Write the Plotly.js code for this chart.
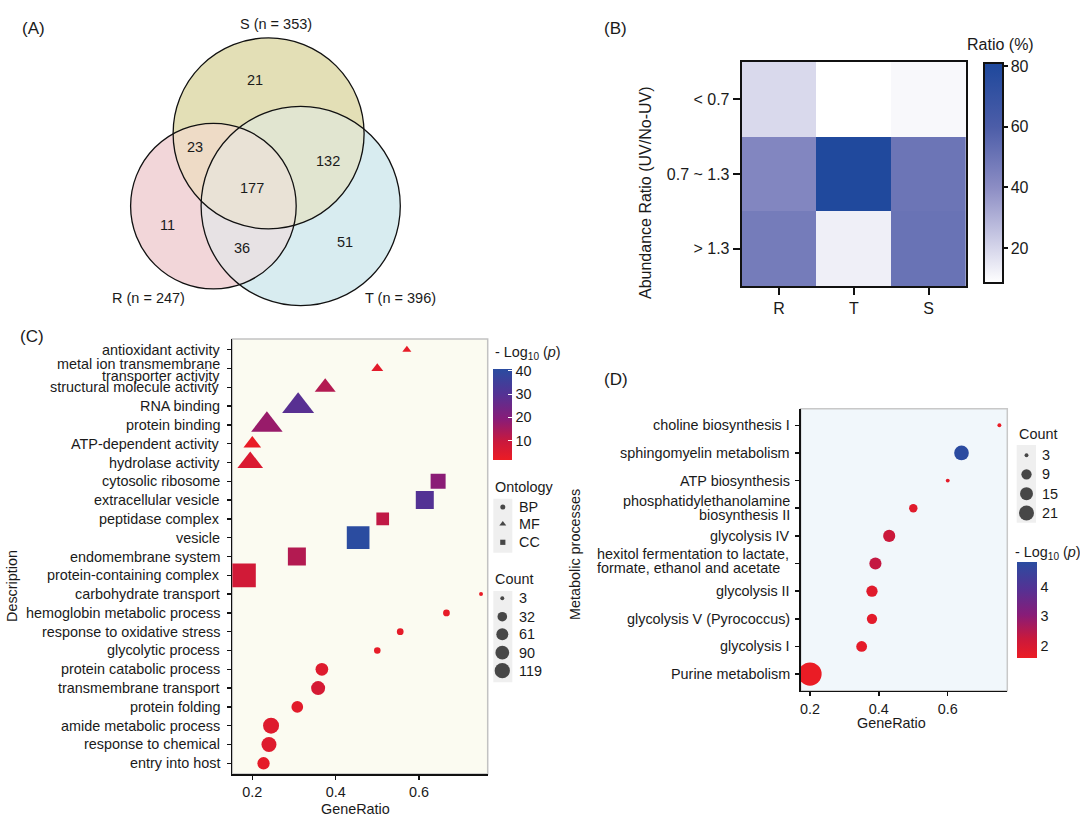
<!DOCTYPE html>
<html><head><meta charset="utf-8">
<script src="https://cdn.plot.ly/plotly-3.0.1.min.js"></script>
<style>html,body{margin:0;padding:0;background:#fff}#chart{width:1080px;height:822px}</style>
</head><body><div id="chart"></div>
<script>
// ================= DATA =================
// (A) Venn diagram
const vennSetLabels = ['S (n = 353)', 'R (n = 247)', 'T (n = 396)'];
const vennRegionKeys = [['S'], ['R'], ['T'], ['S','R'], ['S','T'], ['R','T'], ['S','R','T']];
const vennCounts = [21, 11, 51, 23, 132, 36, 177];

// (B) Heatmap: Ratio (%)
const hmGroups = ['R', 'T', 'S'];
const hmBins = ['< 0.7', '0.7 ~ 1.3', '> 1.3'];
const hmRatio = [
  [19, 8.5, 10.5],
  [43, 80, 50],
  [47, 13, 51]
];

// (C) GO enrichment
const goTerms = [
  'antioxidant activity', 'metal ion transmembrane<br>transporter activity', 'structural molecule activity',
  'RNA binding', 'protein binding', 'ATP-dependent activity', 'hydrolase activity',
  'cytosolic ribosome', 'extracellular vesicle', 'peptidase complex', 'vesicle',
  'endomembrane system', 'protein-containing complex',
  'carbohydrate transport', 'hemoglobin metabolic process', 'response to oxidative stress',
  'glycolytic process', 'protein catabolic process', 'transmembrane transport',
  'protein folding', 'amide metabolic process', 'response to chemical', 'entry into host'
];
const goOntology = ['MF','MF','MF','MF','MF','MF','MF','CC','CC','CC','CC','CC','CC',
  'BP','BP','BP','BP','BP','BP','BP','BP','BP','BP'];
const goRatio = [0.571, 0.5, 0.375, 0.31, 0.235, 0.2, 0.195, 0.646, 0.614, 0.513, 0.454, 0.307, 0.18,
  0.749, 0.666, 0.555, 0.5, 0.367, 0.358, 0.308, 0.245, 0.24, 0.227];
const goCount = [10, 25, 125, 359, 345, 79, 210, 113, 181, 72, 320, 181, 355,
  3, 10, 10, 9, 72, 94, 57, 134, 113, 66];
const goLogP = [3, 4, 13, 29, 17, 2.5, 6, 19, 30, 11, 40.5, 13, 8,
  2.5, 3, 3.5, 3, 5, 7, 4, 5, 5, 3.5];
const ontologyLevels = ['BP', 'MF', 'CC'];
const countBreaksC = [3, 32, 61, 90, 119];
const logPTicksC = [10, 20, 30, 40];

// (D) Metabolic processes
const metTerms = [
  'choline biosynthesis I', 'sphingomyelin metabolism', 'ATP biosynthesis',
  'phosphatidylethanolamine<br>biosynthesis II', 'glycolysis IV',
  'hexitol fermentation to lactate,<br>formate, ethanol and acetate',
  'glycolysis II', 'glycolysis V (Pyrococcus)', 'glycolysis I', 'Purine metabolism'
];
const metRatio = [0.75, 0.64, 0.6, 0.5, 0.43, 0.39, 0.38, 0.38, 0.35, 0.2];
const metCount = [3, 20, 3, 6, 13, 13, 11, 9, 10, 58];
const metLogP = [1.6, 4.8, 1.7, 1.8, 2.2, 2.3, 1.8, 1.75, 1.7, 1.6];
const countBreaksD = [3, 9, 15, 21];
const logPTicksD = [2, 3, 4];

// ================= STYLE / LAYOUT HELPERS =================
const W = 1080, H = 822;
const px = x => x / W, py = y => 1 - y / H;
const FONT = 'Liberation Sans, Arial, Helvetica, sans-serif';
const TXT = '#1a1a1a';
const redBlue = [[0,'rgb(236,28,36)'],[0.2,'rgb(202,25,60)'],[0.45,'rgb(136,28,120)'],[0.72,'rgb(84,50,148)'],[1,'rgb(42,76,160)']];
const blues = [[0,'rgb(255,255,255)'],[0.159,'rgb(213,213,234)'],[0.434,'rgb(140,141,196)'],[0.71,'rgb(76,93,168)'],[1,'rgb(30,72,156)']];
const symbolOf = {BP:'circle', MF:'triangle-up', CC:'square'};
const symbolScale = {circle:1, 'triangle-up':1.166, square:1};

function ggSize(c, cmin, cmax, dMax) { return dMax * (1 + 5 * Math.sqrt((c - cmin) / (cmax - cmin))) / 6; }
const cMinC = Math.min(...goCount), cMaxC = Math.max(...goCount);
const cMinD = Math.min(...metCount), cMaxD = Math.max(...metCount);
const sizeC = c => ggSize(c, cMinC, cMaxC, 23.8);
const sizeD = c => ggSize(c, cMinD, cMaxD, 23.3);

const shapes = [];
const annotations = [];
function txt(text, x, y, size, opts) {
  annotations.push(Object.assign({text, x: px(x), y: py(y), xref:'paper', yref:'paper', showarrow:false,
    font:{family:FONT, size, color:TXT}, xanchor:'center', yanchor:'middle'}, opts || {}));
}

// ---- (A) Venn geometry ----
const vennCircles = { S:{cx:268.6, cy:133.4, r:95.5}, R:{cx:213.4, cy:206.1, r:82.8}, T:{cx:300.7, cy:206.0, r:99.6} };
const regionFill = ['#E3DFB6', '#F2D6D9', '#D8ECF0', '#EEDBC6', '#E1E5D0', '#E7E2E4', '#E9E2D6'];
const regionLabelPos = [[255,80],[167.3,225.3],[345.3,242],[195.3,147],[328.3,161],[242.3,247.7],[251.7,187.7]];
function regionPath(keys) {
  const cs = keys.map(k => vennCircles[k]);
  const pts = [];
  cs.forEach((c, i) => {
    for (let a = 0; a < 720; a++) {
      const t = a / 720 * 2 * Math.PI;
      const x = c.cx + c.r * Math.cos(t), y = c.cy + c.r * Math.sin(t);
      if (cs.every((o, j) => j === i || Math.hypot(x - o.cx, y - o.cy) <= o.r)) pts.push([x, y]);
    }
  });
  const mx = pts.reduce((s,p)=>s+p[0],0)/pts.length, my = pts.reduce((s,p)=>s+p[1],0)/pts.length;
  pts.sort((p, q) => Math.atan2(p[1]-my, p[0]-mx) - Math.atan2(q[1]-my, q[0]-mx));
  return 'M' + pts.map(p => px(p[0]).toFixed(5) + ',' + py(p[1]).toFixed(5)).join('L') + 'Z';
}
vennRegionKeys.forEach((keys, i) => {
  if (keys.length === 1) {
    const c = vennCircles[keys[0]];
    shapes.push({type:'circle', xref:'paper', yref:'paper', x0:px(c.cx-c.r), x1:px(c.cx+c.r), y0:py(c.cy+c.r), y1:py(c.cy-c.r),
      fillcolor:regionFill[i], line:{width:0}, layer:'below'});
  } else {
    shapes.push({type:'path', xref:'paper', yref:'paper', path:regionPath(keys), fillcolor:regionFill[i], line:{width:0}, layer:'below'});
  }
  txt(String(vennCounts[i]), regionLabelPos[i][0], regionLabelPos[i][1], 14.5);
});
['S','R','T'].forEach(k => {
  const c = vennCircles[k];
  shapes.push({type:'circle', xref:'paper', yref:'paper', x0:px(c.cx-c.r), x1:px(c.cx+c.r), y0:py(c.cy+c.r), y1:py(c.cy-c.r),
    line:{color:'#111', width:1.3}, fillcolor:'rgba(0,0,0,0)', layer:'below'});
});
const setLabelPos = [[275.7,24],[148,297.7],[400,297.7]];
vennSetLabels.forEach((s,i)=> txt(s, setLabelPos[i][0], setLabelPos[i][1], 14.5));

// ---- panel labels ----
txt('(A)', 33.3, 28.3, 17); txt('(B)', 615, 28.3, 17); txt('(C)', 32.3, 336.7, 17); txt('(D)', 616, 379, 17);

// ---- (B) titles ----
txt('Abundance Ratio (UV/No-UV)', 645, 193, 16, {textangle:-90});
txt('Ratio (%)', 1000, 45, 16);

// ---- (C) panel box, labels ----
const boxC = {x0:232.3, x1:487.7, y0:339, y1:774};
shapes.push({type:'rect', xref:'paper', yref:'paper', x0:px(boxC.x0), x1:px(boxC.x1), y0:py(boxC.y1), y1:py(boxC.y0),
  fillcolor:'#FBFBF1', line:{color:'#C2C2C2', width:1.5}, layer:'below'});
goTerms.forEach((t, i) => {
  const lines = t.split('<br>');
  lines.forEach((ln, k) => {
    const off = (k - (lines.length - 1) / 2) * 12 + (lines.length > 1 ? 1.5 : 0);
    annotations.push({text:ln, xref:'paper', yref:'y2', x:px(221.5), y:i, yshift:-off, xanchor:'right', yanchor:'middle',
      showarrow:false, font:{family:FONT, size:14.4, color:TXT}});
  });
});
txt('Description', 12, 586, 14.4, {textangle:-90});
txt('GeneRatio', 355.5, 809.3, 14.4);
txt('- Log<sub>10</sub> (<i>p</i>)', 493.3, 352.7, 14.4, {xanchor:'left'});
txt('Ontology', 493.3, 486.7, 14.4, {xanchor:'left'});
txt('Count', 493.3, 579.3, 14.4, {xanchor:'left'});
const ontY = [507, 524, 542.3], cntYC = [598.3, 616.7, 634.3, 652.7, 670.7];
ontologyLevels.forEach((o,i)=> txt(o, 516.7, ontY[i], 14.4, {xanchor:'left'}));
countBreaksC.forEach((c,i)=> txt(String(c), 516.7, cntYC[i], 14.4, {xanchor:'left'}));
shapes.push({type:'rect', xref:'paper', yref:'paper', x0:px(493.3), x1:px(512.3), y0:py(552.7), y1:py(498.7), fillcolor:'#EFEFEF', line:{width:0}, layer:'below'});
shapes.push({type:'rect', xref:'paper', yref:'paper', x0:px(493.3), x1:px(512.3), y0:py(682.3), y1:py(591), fillcolor:'#EFEFEF', line:{width:0}, layer:'below'});

// ---- (D) panel box, labels ----
const boxD = {x0:800.7, x1:1007.3, y0:408.7, y1:690.7};
shapes.push({type:'rect', xref:'paper', yref:'paper', x0:px(boxD.x0), x1:px(boxD.x1), y0:py(boxD.y1), y1:py(boxD.y0),
  fillcolor:'#F1F7FB', line:{color:'#C8C8C8', width:1.5}, layer:'below'});
const leftAlignedD = {5: 594.7};   // label index -> left x (px) for left-justified multi-line labels
metTerms.forEach((t, i) => {
  const lines = t.split('<br>');
  lines.forEach((ln, k) => {
    const off = (k - (lines.length - 1) / 2) * 14 - (i in leftAlignedD ? 2.4 : 0);
    const left = (i in leftAlignedD);
    annotations.push({text:ln, xref:'paper', yref:'y3', x: left ? px(leftAlignedD[i]) : px(792), y:i, yshift:-off,
      xanchor: left ? 'left' : 'right', yanchor:'middle',
      showarrow:false, font:{family:FONT, size:14.4, color:TXT}});
  });
});
txt('Metabolic processes', 575, 555, 14.4, {textangle:-90});
txt('GeneRatio', 891.7, 723.3, 14.4);
txt('Count', 1017.3, 434, 14.4, {xanchor:'left'});
const cntYD = [455.3, 474.3, 493.7, 513];
countBreaksD.forEach((c,i)=> txt(String(c), 1040, cntYD[i], 14.4, {xanchor:'left'}));
shapes.push({type:'rect', xref:'paper', yref:'paper', x0:px(1016.7), x1:px(1036), y0:py(522.7), y1:py(445), fillcolor:'#EFEFEF', line:{width:0}, layer:'below'});
txt('- Log<sub>10</sub> (<i>p</i>)', 1013, 553.3, 14.4, {xanchor:'left'});

// ================= TRACES =================
const traces = [];
traces.push({type:'heatmap', x:hmGroups, y:hmBins, z:hmRatio, coloraxis:'coloraxis', xaxis:'x', yaxis:'y', hoverinfo:'skip'});

ontologyLevels.forEach(o => {
  const idx = goTerms.map((_, i) => i).filter(i => goOntology[i] === o);
  const sym = symbolOf[o];
  traces.push({type:'scatter', mode:'markers', xaxis:'x2', yaxis:'y2', hoverinfo:'skip',
    x: idx.map(i => goRatio[i]), y: idx.map(i => goTerms[i]),
    marker:{symbol:sym, size: idx.map(i => sizeC(goCount[i]) * symbolScale[sym]),
      color: idx.map(i => goLogP[i]), coloraxis:'coloraxis2', line:{width:0}, opacity:1}});
});

traces.push({type:'scatter', mode:'markers', xaxis:'x3', yaxis:'y3', hoverinfo:'skip',
  x: metRatio, y: metTerms,
  marker:{symbol:'circle', size: metCount.map(sizeD), color: metLogP, coloraxis:'coloraxis3', line:{width:0}, opacity:1}});

// legend glyphs (overlay pixel axes)
traces.push({type:'scatter', mode:'markers', xaxis:'x4', yaxis:'y4', hoverinfo:'skip',
  x: ontologyLevels.map(() => 502.8), y: ontY,
  marker:{symbol: ontologyLevels.map(o => symbolOf[o]), size:[5, 6, 5.2], color:'#000', line:{width:0}}});
traces.push({type:'scatter', mode:'markers', xaxis:'x4', yaxis:'y4', hoverinfo:'skip',
  x: countBreaksC.map(() => 502.3), y: cntYC,
  marker:{symbol:'circle', size: countBreaksC.map(sizeC), color:'#000', line:{width:0}}});
traces.push({type:'scatter', mode:'markers', xaxis:'x4', yaxis:'y4', hoverinfo:'skip',
  x: countBreaksD.map(() => 1026.5), y: cntYD,
  marker:{symbol:'circle', size: countBreaksD.map(sizeD), color:'#000', line:{width:0}}});

// ================= LAYOUT =================
const tickFont = s => ({family:FONT, size:s, color:TXT});
const layout = {
  width: W, height: H, autosize:false, margin:{l:0, r:0, t:0, b:0, pad:0},
  paper_bgcolor:'#fff', plot_bgcolor:'rgba(0,0,0,0)', showlegend:false,
  font:{family:FONT, color:TXT},
  xaxis:{domain:[px(741.7), px(966)], anchor:'y', type:'category', showline:true, mirror:true, linewidth:2, linecolor:'#111',
    ticks:'outside', ticklen:7, tickwidth:2, tickcolor:'#111', tickfont:tickFont(16), showgrid:false, zeroline:false},
  yaxis:{domain:[py(286), py(62)], anchor:'x', type:'category', autorange:'reversed', showline:true, mirror:true, linewidth:2, linecolor:'#111',
    ticks:'outside', ticklen:7, tickwidth:2, tickcolor:'#111', tickfont:tickFont(16), showgrid:false, zeroline:false},
  xaxis2:{domain:[px(boxC.x0), px(boxC.x1)], anchor:'y2', range:[0.152, 0.765], tickmode:'array', tickvals:[0.2,0.4,0.6], ticktext:['0.2','0.4','0.6'],
    showline:true, linewidth:1.6, linecolor:'#111', ticks:'outside', ticklen:4, tickwidth:1.5, tickcolor:'#111', tickfont:tickFont(14.4),
    showgrid:false, zeroline:false},
  yaxis2:{domain:[py(boxC.y1), py(boxC.y0)], anchor:'x2', type:'category', categoryorder:'array', categoryarray:goTerms,
    range:[goTerms.length - 1 + 0.57, -0.57], tickmode:'array', tickvals:goTerms, showticklabels:false,
    showline:true, linewidth:1.6, linecolor:'#111', ticks:'outside', ticklen:4, tickwidth:1.5, tickcolor:'#111', showgrid:false, zeroline:false},
  xaxis3:{domain:[px(boxD.x0), px(boxD.x1)], anchor:'y3', range:[0.173, 0.773], tickmode:'array', tickvals:[0.2,0.4,0.6], ticktext:['0.2','0.4','0.6'],
    showline:true, linewidth:1.6, linecolor:'#111', ticks:'outside', ticklen:4, tickwidth:1.5, tickcolor:'#111', tickfont:tickFont(14.4),
    showgrid:false, zeroline:false},
  yaxis3:{domain:[py(boxD.y1), py(boxD.y0)], anchor:'x3', type:'category', categoryorder:'array', categoryarray:metTerms,
    range:[metTerms.length - 1 + 0.6, -0.6], tickmode:'array', tickvals:metTerms, showticklabels:false,
    showline:true, linewidth:1.6, linecolor:'#111', ticks:'outside', ticklen:4, tickwidth:1.5, tickcolor:'#111', showgrid:false, zeroline:false},
  xaxis4:{domain:[0,1], anchor:'y4', range:[0, W], visible:false, fixedrange:true},
  yaxis4:{domain:[0,1], anchor:'x4', range:[H, 0], visible:false, fixedrange:true},
  coloraxis:{cmin:8.5, cmax:81, colorscale:blues, colorbar:{
    x:px(984), xanchor:'left', y:py(63), yanchor:'top', len:220/H, lenmode:'fraction', thickness:19, thicknessmode:'pixels',
    xpad:0, ypad:0, outlinewidth:2, outlinecolor:'#111', borderwidth:0, ticks:'outside', ticklen:4, tickwidth:2, tickcolor:'#111',
    tickmode:'array', tickvals:[20,40,60,80], tickfont:tickFont(16)}},
  coloraxis2:{cmin:1.8, cmax:40.7, colorscale:redBlue, colorbar:{
    x:px(493.3), xanchor:'left', y:py(369), yanchor:'top', len:91/H, lenmode:'fraction', thickness:19, thicknessmode:'pixels',
    xpad:0, ypad:0, outlinewidth:0, borderwidth:0, ticks:'inside', ticklen:4, tickwidth:1, tickcolor:'#fff',
    tickmode:'array', tickvals:logPTicksC, tickfont:tickFont(14.4)}},
  coloraxis3:{cmin:1.57, cmax:4.82, colorscale:redBlue, colorbar:{
    x:px(1016.7), xanchor:'left', y:py(562.3), yanchor:'top', len:96/H, lenmode:'fraction', thickness:19.5, thicknessmode:'pixels',
    xpad:0, ypad:0, outlinewidth:0, borderwidth:0, ticks:'', tickmode:'array', tickvals:logPTicksD, tickfont:tickFont(14.4)}},
  shapes, annotations
};

Plotly.newPlot('chart', traces, layout, {staticPlot:true, displayModeBar:false});
</script>
</body></html>
